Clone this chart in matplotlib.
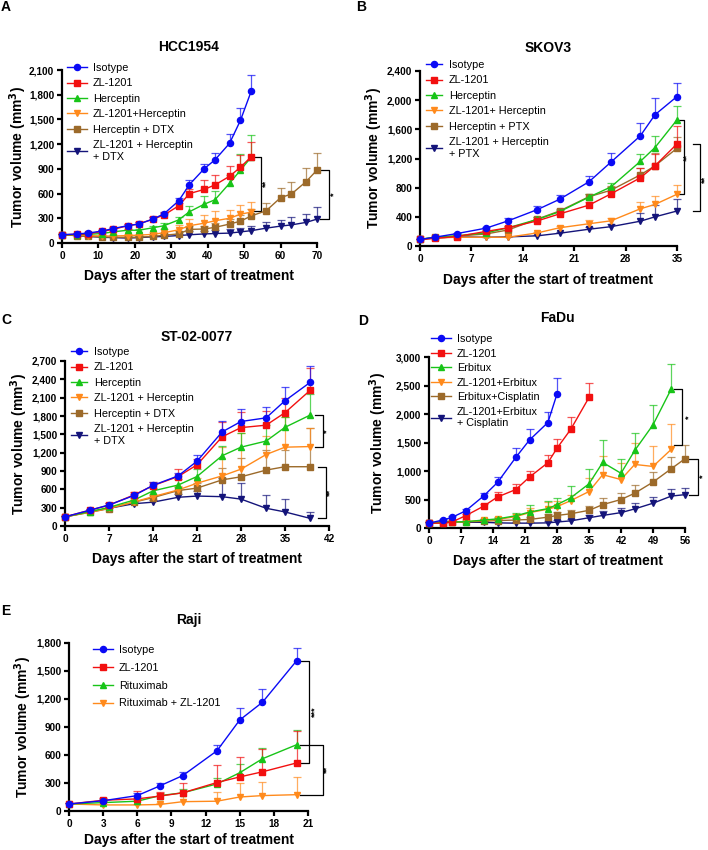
import numpy as np
import matplotlib
matplotlib.use("Agg")
import matplotlib.pyplot as plt
from matplotlib.ticker import FuncFormatter, FixedLocator

plt.rcParams['font.family'] = ['Liberation Sans', 'DejaVu Sans']

# ---------------- DATA ----------------
# Panel A: HCC1954
A_days = [0, 4, 7, 11, 14, 18, 21, 25, 28, 32, 35, 39, 42, 46, 49, 52]
A_days_ext = [0, 4, 7, 11, 14, 18, 21, 25, 28, 32, 35, 39, 42, 46, 49, 52, 56, 60, 63, 67, 70]
A_iso = [100, 110, 120, 145, 175, 210, 230, 290, 355, 510, 710, 900, 1010, 1210, 1490, 1850]
A_iso_err = [10, 10, 10, 15, 15, 15, 20, 20, 25, 40, 60, 60, 80, 110, 150, 190]
A_zl = [100, 105, 110, 140, 165, 210, 230, 290, 340, 450, 600, 650, 705, 810, 920, 1050]
A_zl_err = [10, 10, 10, 15, 15, 15, 20, 25, 30, 40, 50, 110, 115, 130, 150, 170]
A_herc = [100, 100, 105, 115, 135, 155, 155, 185, 210, 280, 380, 470, 525, 725, 885, 1045]
A_herc_err = [10, 10, 10, 15, 15, 15, 20, 25, 30, 30, 70, 100, 110, 100, 190, 270]
A_combo = [100, 95, 90, 85, 85, 90, 95, 105, 125, 160, 210, 240, 270, 300, 350, 375]
A_combo_err = [10, 10, 10, 10, 10, 15, 20, 30, 40, 60, 80, 100, 120, 100, 110, 120]
A_hd = [100, 90, 80, 75, 70, 70, 70, 80, 95, 110, 165, 170, 190, 230, 265, 330, 390, 550, 595, 745, 885]
A_hd_err = [10, 10, 10, 10, 10, 10, 15, 20, 20, 30, 40, 40, 50, 60, 70, 80, 90, 120, 140, 170, 210]
A_tri = [100, 90, 80, 70, 65, 60, 65, 75, 80, 90, 100, 110, 115, 120, 135, 150, 180, 205, 220, 250, 290]
A_tri_err = [10, 10, 10, 10, 10, 10, 15, 15, 20, 20, 40, 40, 40, 50, 50, 60, 80, 80, 90, 105, 150]
A_labels = ["Isotype", "ZL-1201", "Herceptin", "ZL-1201+Herceptin", "Herceptin + DTX",
            "ZL-1201 + Herceptin\n+ DTX"]

# Panel B: SKOV3
B_days = [0, 2, 5, 9, 12, 16, 19, 23, 26, 30, 32, 35]
B_iso = [90, 120, 170, 245, 345, 500, 640, 880, 1150, 1510, 1800, 2050]
B_iso_err = [10, 10, 15, 20, 45, 50, 60, 85, 120, 170, 225, 190]
B_zl = [90, 105, 130, 200, 250, 345, 440, 560, 715, 935, 1100, 1400]
B_zl_err = [10, 10, 15, 20, 25, 30, 30, 40, 100, 140, 160, 240]
B_herc = [90, 120, 140, 180, 250, 365, 470, 670, 810, 1160, 1350, 1730]
B_herc_err = [10, 10, 15, 20, 25, 30, 30, 50, 60, 100, 160, 190]
B_combo = [90, 110, 120, 120, 120, 180, 250, 305, 345, 510, 570, 710]
B_combo_err = [10, 10, 10, 10, 10, 15, 20, 45, 45, 100, 110, 120]
B_hp = [90, 120, 135, 165, 220, 370, 480, 675, 765, 975, 1100, 1340]
B_hp_err = [10, 10, 15, 20, 25, 30, 30, 40, 60, 90, 170, 160]
B_tri = [90, 110, 125, 120, 125, 140, 175, 230, 265, 340, 400, 480]
B_tri_err = [10, 10, 10, 10, 10, 15, 20, 30, 30, 110, 160, 160]
B_labels = ["Isotype", "ZL-1201", "Herceptin", "ZL-1201+ Herceptin", "Herceptin + PTX",
            "ZL-1201 + Herceptin\n+ PTX"]

# Panel C: ST-02-0077
C_days = [0, 4, 7, 11, 14, 18, 21, 25, 28, 32, 35, 39]
C_iso = [150, 260, 345, 500, 665, 820, 1060, 1540, 1710, 1770, 2050, 2350]
C_iso_err = [20, 20, 30, 30, 50, 40, 100, 180, 200, 180, 220, 270]
C_zl = [150, 260, 340, 510, 660, 810, 1000, 1460, 1610, 1650, 1855, 2220]
C_zl_err = [20, 20, 30, 40, 60, 130, 90, 250, 250, 230, 240, 370]
C_herc = [150, 235, 305, 425, 575, 670, 810, 1150, 1290, 1390, 1615, 1815]
C_herc_err = [20, 20, 25, 40, 50, 100, 120, 160, 240, 260, 170, 340]
C_combo = [150, 225, 290, 395, 480, 590, 700, 820, 930, 1170, 1290, 1300]
C_combo_err = [20, 20, 20, 30, 40, 60, 90, 480, 600, 300, 500, 300]
C_hd = [150, 225, 285, 390, 465, 580, 620, 755, 805, 915, 970, 970]
C_hd_err = [20, 20, 20, 30, 40, 60, 90, 200, 300, 330, 280, 630]
C_tri = [150, 235, 290, 365, 390, 470, 490, 480, 440, 290, 230, 125]
C_tri_err = [20, 20, 20, 30, 40, 60, 80, 300, 270, 220, 210, 110]
C_labels = ["Isotype", "ZL-1201", "Herceptin", "ZL-1201 + Herceptin", "Herceptin + DTX",
            "ZL-1201 + Herceptin\n+ DTX"]

# Panel D: FaDu
D_days = [0, 3, 5, 8, 12, 15, 19, 22, 26, 28, 31, 35, 38, 42, 45, 49, 53, 56]
D_iso = [85, 140, 185, 300, 565, 800, 1240, 1545, 1850, 2350]
D_iso_err = [15, 20, 20, 30, 55, 100, 170, 200, 190, 290]
D_zl = [85, 85, 105, 215, 385, 545, 675, 895, 1145, 1400, 1730, 2290]
D_zl_err = [15, 15, 20, 25, 40, 80, 90, 110, 140, 170, 210, 260]
D_erb = [85, 100, 105, 110, 140, 160, 215, 280, 340, 410, 530, 775, 1150, 960, 1360, 1810, 2440]
D_erb_err = [15, 15, 15, 20, 25, 30, 50, 120, 140, 120, 200, 260, 400, 250, 300, 350, 430]
D_combo = [85, 95, 100, 110, 135, 150, 200, 270, 330, 375, 480, 640, 935, 850, 1115, 1080, 1380]
D_combo_err = [15, 15, 15, 20, 25, 30, 50, 80, 120, 100, 100, 240, 330, 290, 380, 350, 440]
D_ec = [85, 95, 100, 105, 120, 130, 140, 150, 190, 220, 250, 310, 410, 500, 610, 805, 1040, 1215]
D_ec_err = [15, 15, 15, 20, 25, 30, 40, 50, 60, 60, 70, 80, 110, 110, 140, 170, 210, 240]
D_tri = [85, 110, 100, 100, 100, 90, 85, 85, 90, 105, 125, 180, 220, 270, 335, 435, 560, 585]
D_tri_err = [15, 20, 15, 15, 15, 15, 20, 20, 30, 40, 40, 50, 70, 80, 100, 115, 125, 110]
D_labels = ["Isotype", "ZL-1201", "Erbitux", "ZL-1201+Erbitux", "Erbitux+Cisplatin",
            "ZL-1201+Erbitux\n+ Cisplatin"]

# Panel E: Raji
E_days = [0, 3, 6, 8, 10, 13, 15, 17, 20]
E_iso = [75, 110, 165, 270, 380, 645, 975, 1165, 1610]
E_iso_err = [10, 15, 30, 30, 40, 65, 125, 140, 140]
E_zl = [75, 115, 130, 160, 195, 305, 365, 420, 515]
E_zl_err = [10, 20, 85, 40, 110, 190, 215, 245, 340]
E_rit = [75, 90, 105, 165, 195, 290, 410, 560, 710]
E_rit_err = [10, 15, 20, 30, 40, 60, 95, 120, 160]
E_combo = [75, 65, 65, 70, 100, 105, 150, 165, 175]
E_combo_err = [10, 15, 15, 15, 100, 100, 145, 150, 185]
E_labels = ["Isotype", "ZL-1201", "Rituximab", "Rituximab + ZL-1201"]

# ---------------- STYLE ----------------
BLUE = '#0A0AF5'
RED = '#F21010'
GREEN = '#18C418'
ORANGE = '#FF8A1C'
BROWN = '#9C6A2A'
NAVY = '#14147A'
STYLES = [(BLUE, 'o', 4.4), (RED, 's', 4.2), (GREEN, '^', 4.6),
          (ORANGE, 'v', 4.6), (BROWN, 's', 4.2), (NAVY, 'v', 4.6)]

W, H = 708, 850
fig = plt.figure(figsize=(W / 100, H / 100), dpi=100)


def px_axes(x0, y0, x1, y1):
    return fig.add_axes([x0 / W, 1 - y1 / H, (x1 - x0) / W, (y1 - y0) / H])


def style_axes(ax, xmax, xstep, ymax, ystep):
    ax.set_xlim(0, xmax)
    ax.set_ylim(0, ymax)
    ax.xaxis.set_major_locator(FixedLocator(np.arange(0, xmax + 0.1, xstep)))
    ax.yaxis.set_major_locator(FixedLocator(np.arange(0, ymax + 0.1, ystep)))
    ax.yaxis.set_major_formatter(FuncFormatter(lambda v, p: f"{v:,.0f}"))
    for s in ['top', 'right']:
        ax.spines[s].set_visible(False)
    for s in ['left', 'bottom']:
        ax.spines[s].set_linewidth(1.6)
    ax.tick_params(direction='out', length=3.5, width=1.6, labelsize=7.2, pad=2)
    for lab in ax.get_xticklabels() + ax.get_yticklabels():
        lab.set_fontweight('bold')
    ax.patch.set_alpha(0)


def plot_series(ax, series):
    handles = []
    n = len(series)
    for i in range(n - 1, -1, -1):
        days, vals, errs = series[i]
        c, m, ms = STYLES[i]
        d = np.array(days[:len(vals)], dtype=float)
        v = np.array(vals, dtype=float)
        e = np.array(errs, dtype=float)
        ax.vlines(d, v, v + e, colors=c, linewidth=0.9, alpha=0.7, zorder=2, clip_on=False)
        ax.plot(d, v + e, ls='none', marker='_', ms=6, mew=0.9, color=c, alpha=0.7,
                zorder=2, clip_on=False)
    for i in range(n):
        days, vals, errs = series[i]
        c, m, ms = STYLES[i]
        d = np.array(days[:len(vals)], dtype=float)
        ln, = ax.plot(d, vals, color=c, marker=m, ms=ms, lw=1.0, zorder=3 + (n - i) * 0.1,
                      clip_on=False)
        handles.append(ln)
    return handles


def legend(ax, handles, labels, x, y, spacing=0.5, hl=1.8):
    ax.legend(handles, labels, loc='upper left', bbox_to_anchor=(x / W, 1 - y / H),
              bbox_transform=fig.transFigure, frameon=False, fontsize=7.8,
              handlelength=hl, handletextpad=0.6, labelspacing=spacing,
              borderpad=0, borderaxespad=0)


def bracket(ax, xl, xr, ytop, ybot, text, tx, ty):
    ax.plot([xl, xr, xr, xl], [ytop, ytop, ybot, ybot], color='black', lw=0.9, clip_on=False)
    ax.text(tx, ty, text, rotation=90, ha='center', va='center', fontsize=6.5,
            fontweight='bold', clip_on=False)


def ftext(x, y, s, size, **kw):
    fig.text(x / W, 1 - y / H, s, fontsize=size, fontweight='bold', ha='center', va='center', **kw)


YLAB = "Tumor volume (mm$\\mathbf{^3}$)"
XLAB = "Days after the start of treatment"

# ---- Panel A ----
axA = px_axes(62, 70, 317, 243)
hA = plot_series(axA, [(A_days, A_iso, A_iso_err), (A_days, A_zl, A_zl_err),
                       (A_days, A_herc, A_herc_err), (A_days, A_combo, A_combo_err),
                       (A_days_ext, A_hd, A_hd_err), (A_days_ext, A_tri, A_tri_err)])
style_axes(axA, 70, 10, 2100, 300)
legend(axA, hA, A_labels, 67, 63)
bracket(axA, A_days[-1] + 0.6, A_days[-1] + 2.7, A_zl[-1], A_hd[16], "**",
        A_days[-1] + 4.0, (A_zl[-1] + A_hd[16]) / 2)
bracket(axA, A_days_ext[-1] + 0.8, A_days_ext[-1] + 3.4, A_hd[-1], A_tri[-1], "*",
        A_days_ext[-1] + 4.6, (A_hd[-1] + A_tri[-1]) / 2)

# ---- Panel B ----
axB = px_axes(420, 71, 677, 246)
hB = plot_series(axB, [(B_days, B_iso, B_iso_err), (B_days, B_zl, B_zl_err),
                       (B_days, B_herc, B_herc_err), (B_days, B_combo, B_combo_err),
                       (B_days, B_hp, B_hp_err), (B_days, B_tri, B_tri_err)])
style_axes(axB, 35, 7, 2400, 400)
legend(axB, hB, B_labels, 426, 60, hl=1.5)
bracket(axB, B_days[-1] + 0.2, B_days[-1] + 0.9, B_herc[-1], B_combo[-1], "**",
        B_days[-1] + 1.4, (B_herc[-1] + B_combo[-1]) / 2)
bracket(axB, B_days[-1] + 2.2, B_days[-1] + 3.2, B_hp[-1] + 60, B_tri[-1], "**",
        B_days[-1] + 3.75, (B_hp[-1] + B_tri[-1]) / 2)

# ---- Panel C ----
axC = px_axes(65, 361, 329, 526)
hC = plot_series(axC, [(C_days, C_iso, C_iso_err), (C_days, C_zl, C_zl_err),
                       (C_days, C_herc, C_herc_err), (C_days, C_combo, C_combo_err),
                       (C_days, C_hd, C_hd_err), (C_days, C_tri, C_tri_err)])
style_axes(axC, 42, 7, 2700, 300)
legend(axC, hC, C_labels, 71, 347, hl=1.5)
bracket(axC, C_days[-1] + 0.8, C_days[-1] + 2.1, C_herc[-1], C_combo[-1], "*",
        C_days[-1] + 2.6, (C_herc[-1] + C_combo[-1]) / 2)
bracket(axC, C_days[-1] + 1.3, C_days[-1] + 2.5, C_hd[-1], C_tri[-1], "**",
        C_days[-1] + 3.2, (C_hd[-1] + C_tri[-1]) / 2)

# ---- Panel D ----
axD = px_axes(429, 357, 685, 528)
hD = plot_series(axD, [(D_days, D_iso, D_iso_err), (D_days, D_zl, D_zl_err),
                       (D_days, D_erb, D_erb_err), (D_days, D_combo, D_combo_err),
                       (D_days, D_ec, D_ec_err), (D_days, D_tri, D_tri_err)])
style_axes(axD, 56, 7, 3000, 500)
legend(axD, hD, D_labels, 431, 334, spacing=0.42)
bracket(axD, D_days[16] + 0.6, D_days[16] + 2.3, D_erb[-1], D_ec[-1] + 240, "*",
        D_days[16] + 3.8, (D_erb[-1] + D_ec[-1] + 240) / 2)
bracket(axD, D_days[-1] + 0.8, D_days[-1] + 2.9, D_ec[-1], D_tri[-1], "*",
        D_days[-1] + 4.0, (D_ec[-1] + D_tri[-1]) / 2)

# ---- Panel E ----
axE = px_axes(69, 643, 308, 811)
hE = plot_series(axE, [(E_days, E_iso, E_iso_err), (E_days, E_zl, E_zl_err),
                       (E_days, E_rit, E_rit_err), (E_days, E_combo, E_combo_err)])
style_axes(axE, 21, 3, 1800, 300)
legend(axE, hE, E_labels, 93, 645, spacing=0.72, hl=1.8)
bracket(axE, E_days[-1] + 0.3, E_days[-1] + 1.1, E_iso[-1], E_zl[-1], "***",
        E_days[-1] + 1.6, (E_iso[-1] + E_zl[-1]) / 2)
bracket(axE, E_days[-1] + 0.3, E_days[-1] + 2.3, E_rit[-1], E_combo[-1], "**",
        E_days[-1] + 2.7, (E_rit[-1] + E_combo[-1]) / 2)

# ---- Texts ----
ftext(189, 47, "HCC1954", 10)
ftext(548, 48, "SKOV3", 10)
ftext(197, 337, "ST-02-0077", 10)
ftext(557, 318, "FaDu", 10)
ftext(189, 620, "Raji", 10)

ftext(189, 276, XLAB, 10)
ftext(548, 280, XLAB, 10)
ftext(197, 559, XLAB, 10)
ftext(558, 561, XLAB, 10)
ftext(189, 840, XLAB, 10)

ftext(18, 157, YLAB, 10, rotation=90)
ftext(374, 158, YLAB, 10, rotation=90)
ftext(19, 444, YLAB, 10, rotation=90)
ftext(378, 443, YLAB, 10, rotation=90)
ftext(23, 727, YLAB, 10, rotation=90)

ftext(6, 7, "A", 10)
ftext(361, 7, "B", 10)
ftext(6, 320, "C", 10)
ftext(363, 321, "D", 10)
ftext(6, 611, "E", 10)

fig.savefig("out.png", dpi=100)
